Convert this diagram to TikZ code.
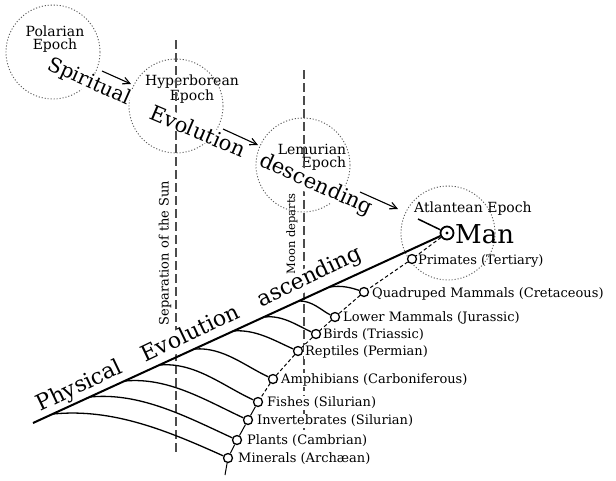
\documentclass[tikz,border=0pt]{standalone}
\usepackage{fontspec}
\setmainfont{DejaVu Serif}
\usetikzlibrary{arrows.meta,calc}
\begin{document}
\begin{tikzpicture}[x=1pt,y=-1pt,
  epoch/.style={circle,draw=black!65,line width=0.9pt,dash pattern=on 1.1pt off 1.9pt,minimum size=94pt,inner sep=0pt},
  epochlab/.style={align=center,font=\fontsize{14}{13}\selectfont,inner sep=0pt},
  vline/.style={draw=black!70,line width=1.1pt,dash pattern=on 9pt off 4pt},
  vlab/.style={rotate=90,inner sep=0.5pt},
  big/.style={font=\fontsize{21}{24}\selectfont,fill=white,inner sep=0.3pt},
  phys/.style={font=\fontsize{22}{24}\selectfont,fill=white,inner sep=0.3pt,rotate=25.5,text height=16pt,text depth=5pt},
  sarrow/.style={line width=1.1pt,-{Straight Barb[length=7pt,width=7pt]}},
  mainline/.style={line width=2pt},
  branch/.style={line width=1.3pt},
  chain/.style={line width=1pt,dash pattern=on 3.5pt off 2.5pt},
  tax/.style={circle,draw,line width=1.3pt,fill=white,minimum size=9pt,inner sep=0pt},
  lab/.style={anchor=west,font=\fontsize{13}{14}\selectfont,inner sep=1pt},
  labw/.style={lab,fill=white}
]
\fill[white] (0,0) rectangle (616,480);
\useasboundingbox (0,0) rectangle (616,480);

% epoch circles
\node[epoch] (polar) at (53,52) {};
\node[epoch] (hyper) at (176,106) {};
\node[epoch] (lemur) at (303,165) {};
\node[epoch] (atlan) at (448,233) {};

\node[epochlab] (polarlab) at (55,39) {Polarian\\Epoch};
\node[epochlab] (hyperlab) at (192,89) {Hyperborean\\Epoch};
\node[epochlab,align=right] (lemurlab) at (312,157) {Lemurian\\Epoch};
\node[epochlab] (atlanlab) at (473,209) {Atlantean Epoch};

% vertical dashed lines
\coordinate (sunT) at (176,40);
\coordinate (sunB) at (176,452);
\coordinate (moonT) at (304,70);
\coordinate (moonB) at (304,447);
\draw[vline] (sunT) -- (sunB);
\draw[vline] (moonT) -- (moonB);
\node[vlab,font=\fontsize{13}{14}\selectfont] (sunlab) at (165,253) {Separation of the Sun};
\node[vlab,font=\fontsize{11.5}{13}\selectfont] (moonlab) at (292,234) {Moon departs};

% spiritual evolution text
\node[big,rotate=-24,font=\fontsize{20}{22}\selectfont] (t1) at (89,82) {Spiritual};
\node[big,rotate=-23] (t2) at (198,131) {Evolution};
\node[big,rotate=-24] (t3) at (316,185) {descending};

% arrows
\coordinate (a1s) at (102,71);
\coordinate (a1e) at (131,84);
\coordinate (a2s) at (223,129);
\coordinate (a2e) at (258,145);
\coordinate (a3s) at (360,192);
\coordinate (a3e) at (398,209);
\draw[sarrow] (a1s) -- (a1e);
\draw[sarrow] (a2s) -- (a2e);
\draw[sarrow] (a3s) -- (a3e);

% physical evolution text
\node[phys] (p1) at (80,387) {Physical};
\node[phys] (p2) at (191,335) {Evolution};
\node[phys] (p3) at (310,278) {ascending};

% Man
\node[circle,draw,line width=1.8pt,minimum size=13pt,inner sep=0pt] (man) at (447,233) {};
\fill (man.center) circle (1.6pt);
\node[anchor=west,font=\fontsize{26}{28}\selectfont,inner sep=0pt] (mantext) at (455,234) {Man};
\coordinate (sp4) at (418,219);
\draw[line width=1.5pt] (sp4) -- (man);

% main line
\coordinate (pstart) at (33,423);
\draw[mainline] (pstart) -- (man);

% taxa
\node[tax] (prim) at (412,259) {};
\node[tax] (quad) at (364,292) {};
\node[tax] (lowm) at (335,317) {};
\node[tax] (bird) at (316,334) {};
\node[tax] (rept) at (298,351) {};
\node[tax] (amph) at (273,379) {};
\node[tax] (fish) at (258,402) {};
\node[tax] (inve) at (248,420) {};
\node[tax] (plan) at (237,440) {};
\node[tax] (mine) at (228,458) {};
\coordinate (chainend) at (225,475);

% chain
\draw[chain] (man) -- (prim) -- (quad) -- (lowm) -- (bird) -- (rept) -- (amph) -- (fish);
\draw[line width=1pt] (fish) -- (inve) -- (plan) -- (mine) -- (chainend);

% branch starts on main line
\coordinate (s1) at (53,414);
\coordinate (s2) at (90,397);
\coordinate (s3) at (125,381);
\coordinate (s4) at (160,365);
\coordinate (s5) at (195,349);
\coordinate (s6) at (233,331);
\coordinate (s7) at (265,317);
\coordinate (s8) at (298,301);
\coordinate (s9) at (330,287);
\draw[branch] (s1) .. controls +(60,-6) and +(-60,-27) .. (mine);
\draw[branch] (s2) .. controls +(50,-5) and +(-50,-23) .. (plan);
\draw[branch] (s3) .. controls +(43,-4) and +(-43,-20) .. (inve);
\draw[branch] (s4) .. controls +(35,-3) and +(-35,-16) .. (fish);
\draw[branch] (s5) .. controls +(28,-2) and +(-28,-13) .. (amph);
\draw[branch] (s6) .. controls +(23,-2) and +(-23,-10) .. (rept);
\draw[branch] (s7) .. controls +(18,-2) and +(-18,-8) .. (bird);
\draw[branch] (s8) .. controls +(14,-1) and +(-13,-6) .. (lowm);
\draw[branch] (s9) .. controls +(12,-2) and +(-12,-4) .. (quad);

% labels
\node[lab] (lprim) at (417,261) {Primates (Tertiary)};
\node[lab] (lquad) at (371,294) {Quadruped Mammals (Cretaceous)};
\node[lab] (llowm) at (342,318) {Lower Mammals (Jurassic)};
\node[labw] (lbird) at (322,335) {Birds (Triassic)};
\node[labw] (lrept) at (304,352) {Reptiles (Permian)};
\node[labw] (lamph) at (280,380) {Amphibians (Carboniferous)};
\node[labw] (lfish) at (266,403) {Fishes (Silurian)};
\node[labw] (linve) at (256,421) {Invertebrates (Silurian)};
\node[labw] (lplan) at (246,441) {Plants (Cambrian)};
\node[labw] (lmine) at (237,459) {Minerals (Archæan)};
\end{tikzpicture}
\end{document}
